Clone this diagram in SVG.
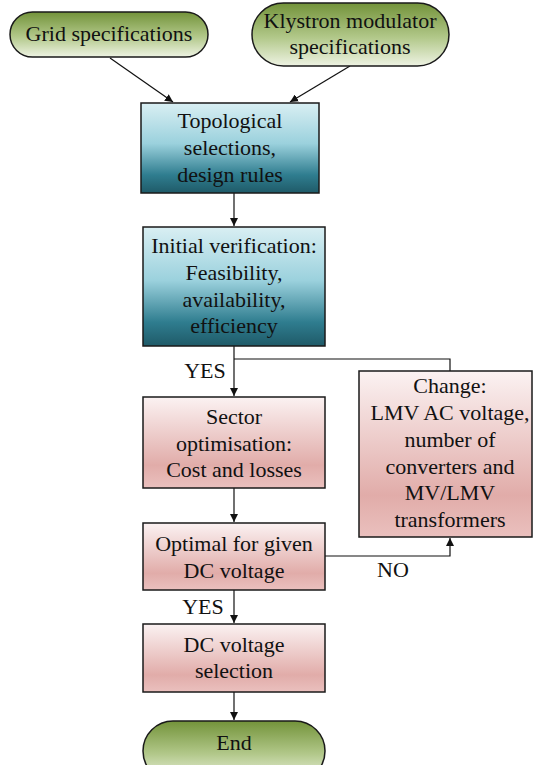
<svg xmlns="http://www.w3.org/2000/svg" width="533" height="765" viewBox="0 0 533 765">
  <defs>
    <linearGradient id="gGreen" x1="0" y1="0" x2="0" y2="1">
      <stop offset="0" stop-color="#73933a"/>
      <stop offset="0.55" stop-color="#b2c88a"/>
      <stop offset="1" stop-color="#eef3e3"/>
    </linearGradient>
    <linearGradient id="gBlue" x1="0" y1="0" x2="0" y2="1">
      <stop offset="0" stop-color="#d9eff3"/>
      <stop offset="0.45" stop-color="#9bd1dd"/>
      <stop offset="0.8" stop-color="#2f7d8f"/>
      <stop offset="1" stop-color="#1f5a68"/>
    </linearGradient>
    <linearGradient id="gPink" x1="0" y1="0" x2="0" y2="1">
      <stop offset="0" stop-color="#fbf2f2"/>
      <stop offset="0.75" stop-color="#e1aca9"/>
      <stop offset="1" stop-color="#eac0be"/>
    </linearGradient>
    <marker id="arrow" viewBox="0 0 10 10" refX="10" refY="5" markerWidth="8" markerHeight="8" markerUnits="userSpaceOnUse" orient="auto">
      <path d="M0,0 L10,5 L0,10 z" fill="#111"/>
    </marker>
  </defs>
  <style>
    .box { stroke: #1a1a1a; stroke-width: 1.5; }
    .green { fill: url(#gGreen); }
    .blue { fill: url(#gBlue); }
    .pink { fill: url(#gPink); }
    text { font-family: "Liberation Serif", "Times New Roman", serif; font-size: 22px; fill: #111; text-anchor: middle; }
    .conn { fill: none; stroke: #111; stroke-width: 1.2; }
  </style>

  <rect width="533" height="765" fill="#ffffff"/>

  <g id="connectors">
    <line class="conn" x1="110" y1="58" x2="173" y2="102" marker-end="url(#arrow)"/>
    <line class="conn" x1="350" y1="66" x2="290" y2="102" marker-end="url(#arrow)"/>
    <line class="conn" x1="234" y1="193" x2="234" y2="226" marker-end="url(#arrow)"/>
    <line class="conn" x1="234" y1="346" x2="234" y2="396" marker-end="url(#arrow)"/>
    <polyline class="conn" points="234,359 450,359 450,371"/>
    <line class="conn" x1="234" y1="488" x2="234" y2="522" marker-end="url(#arrow)"/>
    <polyline class="conn" points="325,556 450,556 450,538" marker-end="url(#arrow)"/>
    <line class="conn" x1="234" y1="590" x2="234" y2="623" marker-end="url(#arrow)"/>
    <line class="conn" x1="234" y1="692" x2="234" y2="720" marker-end="url(#arrow)"/>
    <text x="205" y="378">YES</text>
    <text x="393" y="577">NO</text>
    <text x="203" y="614">YES</text>
  </g>

  <g id="grid-spec">
    <rect class="box green" x="10" y="12" width="198" height="45" rx="22.5"/>
    <text x="109" y="41">Grid specifications</text>
  </g>

  <g id="klystron-spec">
    <rect class="box green" x="252" y="3" width="197" height="63" rx="31.5"/>
    <text x="350" y="28">Klystron modulator</text>
    <text x="350" y="54">specifications</text>
  </g>

  <g id="topology">
    <rect class="box blue" x="141" y="103" width="178" height="90"/>
    <text x="230" y="128">Topological</text>
    <text x="230" y="155">selections,</text>
    <text x="230" y="182">design rules</text>
  </g>

  <g id="initial-verification">
    <rect class="box blue" x="143" y="227" width="182" height="119"/>
    <text x="234" y="253">Initial verification:</text>
    <text x="234" y="280">Feasibility,</text>
    <text x="234" y="307">availability,</text>
    <text x="234" y="333">efficiency</text>
  </g>

  <g id="sector-optimisation">
    <rect class="box pink" x="143" y="397" width="182" height="91"/>
    <text x="234" y="424">Sector</text>
    <text x="234" y="451">optimisation:</text>
    <text x="234" y="477">Cost and losses</text>
  </g>

  <g id="change">
    <rect class="box pink" x="359" y="371" width="173" height="166"/>
    <text x="450" y="393">Change:</text>
    <text x="450" y="420">LMV AC voltage,</text>
    <text x="450" y="447">number of</text>
    <text x="450" y="474">converters and</text>
    <text x="450" y="500">MV/LMV</text>
    <text x="450" y="527">transformers</text>
  </g>

  <g id="optimal-check">
    <rect class="box pink" x="143" y="523" width="182" height="67"/>
    <text x="234" y="551">Optimal for given</text>
    <text x="234" y="578">DC voltage</text>
  </g>

  <g id="dc-voltage-selection">
    <rect class="box pink" x="143" y="624" width="182" height="68"/>
    <text x="234" y="652">DC voltage</text>
    <text x="234" y="678">selection</text>
  </g>

  <g id="end">
    <rect class="box green" x="143" y="721" width="182" height="60" rx="30"/>
    <text x="234" y="750">End</text>
  </g>
</svg>
